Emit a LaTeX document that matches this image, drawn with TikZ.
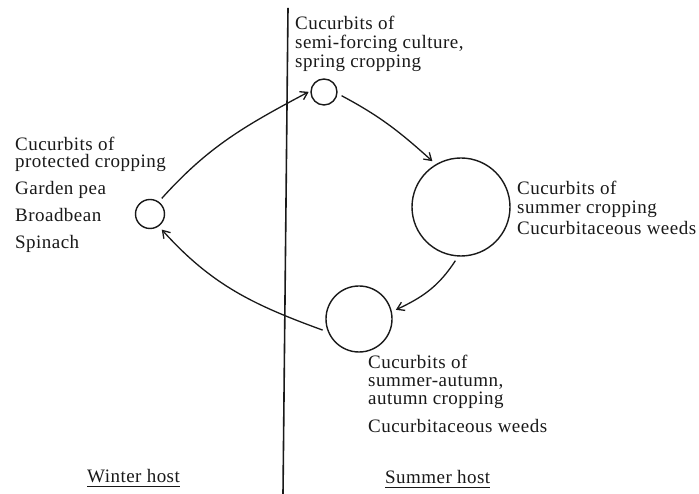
\documentclass[tikz,border=0pt]{standalone}
\usepackage{fontspec}
\setmainfont{Liberation Serif}[LetterSpace=2.5]
\usetikzlibrary{arrows.meta}

\tikzset{
  host/.style={circle,draw,line width=1.4pt,inner sep=0pt,outer sep=5pt},
  crop/.style={inner sep=0pt,anchor=base west,align=left},
  cycle/.style={->,line width=1.3pt},
}

\begin{document}
\begin{tikzpicture}[>={Straight Barb[length=7pt,width=9pt]},x=1pt,y=1pt,
    font=\fontsize{19}{18}\selectfont,color=black!90]
  \path[use as bounding box,fill=white] (0,0) rectangle (699,494);
  % winter / summer divide
  \draw[line width=1.6pt] (288,486) -- (283,0);
  % hosts
  \node[host,minimum size=29pt] (protc) at (150,280) {};
  \node[host,minimum size=26pt] (semi) at (324,402) {};
  \node[host,minimum size=98pt] (summ) at (461,287) {};
  \node[host,minimum size=66pt] (autm) at (359,175) {};
  % labels (base = last line)
  \node[crop,font=\fontsize{19}{17.5}\selectfont] (protlab) at (15,245)
    {Cucurbits of\\protected cropping\\[9.5pt]Garden pea\\[9.5pt]Broadbean\\[9.5pt]Spinach};
  \node[crop,font=\fontsize{19}{19}\selectfont] (semilab) at (295,426)
    {Cucurbits of\\semi-forcing culture,\\spring cropping};
  \node[crop,font=\fontsize{19}{19}\selectfont] (summlab) at (517,259)
    {Cucurbits of\\summer cropping\\[2pt]Cucurbitaceous weeds};
  \node[crop] (autmlab) at (368,61)
    {Cucurbits of\\summer-autumn,\\autumn cropping\\[10pt]Cucurbitaceous weeds};
  \node[crop] (winter) at (87,11) {Winter host};
  \node[crop] (summer) at (385,10) {Summer host};
  \draw[line width=1.5pt] ([yshift=-3.5pt]winter.base west) -- ([yshift=-3.5pt]winter.base east);
  \draw[line width=1.5pt] ([yshift=-3.5pt]summer.base west) -- ([yshift=-3.5pt]summer.base east);
  % the yearly round
  \draw[cycle,shorten >=-3pt] (protc.53) to[out=48,in=208] (semi.184);
  \draw[cycle] (semi.-12) to[out=-28,in=138] (summ.122);
  \draw[cycle] (summ.264) to[out=237,in=25] (autm.14);
  \draw[cycle] (autm.197) to[out=160,in=-48] (protc.-53);
\end{tikzpicture}
\end{document}
